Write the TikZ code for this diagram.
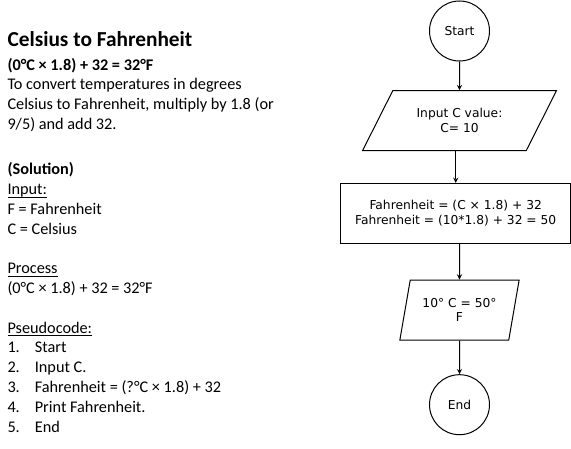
\documentclass[tikz,border=0pt]{standalone}
\usepackage{fontspec}
\setmainfont{Carlito}
\newfontfamily\flowfont{DejaVu Sans}
\usetikzlibrary{shapes,arrows,positioning}
\newcommand\underl[1]{\setbox0\hbox{#1}\rlap{\rule[-2.2pt]{\wd0}{0.6pt}}#1}

\begin{document}
\begin{tikzpicture}[
    x=0.75pt, y=-0.75pt,
    line width=0.75pt,
    node distance=25pt,
    terminal/.style={circle, draw, minimum size=45pt, inner sep=0pt, font=\flowfont\fontsize{9.2}{11}\selectfont},
    io/.style={trapezium, trapezium stretches=true, draw, minimum height=45pt, align=center, font=\flowfont\fontsize{9.2}{11}\selectfont},
    process/.style={rectangle, draw, minimum width=172.5pt, minimum height=45pt, align=center, font=\flowfont\fontsize{9.2}{11}\selectfont},
    notes/.style={align=left, inner sep=0pt, font=\fontsize{12.2}{14.85}\selectfont},
    arrow/.style={->, >=stealth}
]
    \useasboundingbox (0,0) rectangle (571,449);

    % notes on the left (base anchor = last line)
    \node[anchor=base west, inner sep=0pt, font=\bfseries\fontsize{16}{19}\selectfont] (title) at (7,47) {Celsius to Fahrenheit};
    \node[notes, anchor=base west] (intro) at (7,129.5) {\textbf{(0°C × 1.8) + 32 = 32°F}\\To convert temperatures in degrees\\Celsius to Fahrenheit, multiply by 1.8 (or\\9/5) and add 32.};
    \node[notes, anchor=base west] (solution) at (7,432) {\textbf{(Solution)}\\\underl{Input:}\\F = Fahrenheit\\C = Celsius\\\mbox{}\\\underl{Process}\\(0°C × 1.8) + 32 = 32°F\\\mbox{}\\\underl{Pseudocode:}\\\makebox[20.5pt][l]{1.}Start\\\makebox[20.5pt][l]{2.}Input C.\\\makebox[20.5pt][l]{3.}Fahrenheit = (?°C × 1.8) + 32\\\makebox[20.5pt][l]{4.}Print Fahrenheit.\\\makebox[20.5pt][l]{5.}End};

    % flowchart
    \node[terminal] (start) at (459.5,31) {Start};
    \node[io, trapezium left angle=57, trapezium right angle=123, minimum width=145.5pt, below=21.5pt of start] (input) {Input C value:\\C= 10};
    \node[process, below=23.75pt of input, xshift=-2.85pt] (calc) {Fahrenheit = (C × 1.8) + 32\\Fahrenheit = (10*1.8) + 32 = 50};
    \node[io, trapezium left angle=75, trapezium right angle=105, minimum width=90pt, below=26.75pt of calc, xshift=2.85pt] (output) {10° C = 50°\\F};
    \node[terminal, below=25.25pt of output] (stop) {End};

    \draw[arrow] (start) -- (input);
    \draw[arrow] (input.south -| calc.north) -- (calc.north);
    \draw[arrow] (calc.south -| output.north) -- (output);
    \draw[arrow] (output) -- (stop);
\end{tikzpicture}
\end{document}
